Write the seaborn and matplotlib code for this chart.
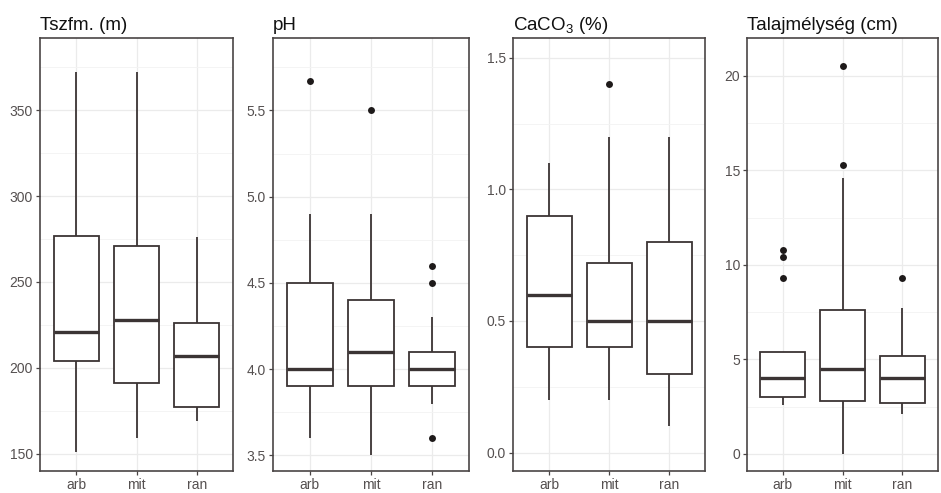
import pandas as pd
import seaborn as sns
import matplotlib.pyplot as plt
from matplotlib.ticker import MultipleLocator, AutoMinorLocator, FormatStrFormatter

groups = ["arb", "mit", "ran"]

# five-number summaries per group: [lower whisker, Q1, median, Q3, upper whisker]
tszfm_box = {"arb": [151, 204, 221, 277, 372],
             "mit": [159, 191, 228, 271, 372],
             "ran": [169, 177, 207, 226, 276]}
tszfm_out = {"arb": [], "mit": [], "ran": []}

ph_box = {"arb": [3.6, 3.9, 4.0, 4.5, 4.9],
          "mit": [3.5, 3.9, 4.1, 4.4, 4.9],
          "ran": [3.8, 3.9, 4.0, 4.1, 4.3]}
ph_out = {"arb": [5.67], "mit": [5.5], "ran": [4.6, 4.5, 3.6]}

caco3_box = {"arb": [0.2, 0.4, 0.6, 0.9, 1.1],
             "mit": [0.2, 0.4, 0.5, 0.72, 1.2],
             "ran": [0.1, 0.3, 0.5, 0.8, 1.2]}
caco3_out = {"arb": [], "mit": [1.4], "ran": []}

talaj_box = {"arb": [2.6, 3.0, 4.0, 5.4, 5.4],
             "mit": [0.0, 2.8, 4.5, 7.6, 14.6],
             "ran": [2.1, 2.7, 4.0, 5.2, 7.7]}
talaj_out = {"arb": [10.8, 10.4, 9.3], "mit": [20.5, 15.3], "ran": [9.3]}

titles = ["Tszfm. (m)", "pH", "CaCO$_3$ (%)", "Talajmélység (cm)"]
ylims = [(140, 392), (3.41, 5.92), (-0.07, 1.575), (-0.9, 22.0)]
steps = [50, 0.5, 0.5, 5]
fmts = ["%d", "%.1f", "%.1f", "%d"]
lefts = [40, 273, 513, 747]
rights = [233, 469, 705, 938]

sns.set_theme(style="white")
plt.rcParams["font.family"] = ["Liberation Sans", "DejaVu Sans"]
plt.rcParams["mathtext.fontset"] = "custom"
plt.rcParams["mathtext.rm"] = "Liberation Sans"
plt.rcParams["mathtext.it"] = "Liberation Sans"

line_col = "#3b3434"
fig = plt.figure(figsize=(9.41, 4.93), dpi=100)

panels = [(tszfm_box, tszfm_out), (ph_box, ph_out), (caco3_box, caco3_out), (talaj_box, talaj_out)]
for i, (box, out) in enumerate(panels):
    W, H = 941, 493
    ax = fig.add_axes([lefts[i] / W, (H - 471) / H, (rights[i] - lefts[i]) / W, (471 - 38) / H])
    df = pd.DataFrame([(g, v) for g in groups for v in box[g]], columns=["grp", "val"])
    sns.boxplot(data=df, x="grp", y="val", order=groups, whis=(0, 100), width=0.75,
                color="white", linecolor=line_col, linewidth=1.3, showcaps=False,
                medianprops=dict(linewidth=2.4, color=line_col), ax=ax)
    odf = pd.DataFrame([(g, v) for g in groups for v in out[g]], columns=["grp", "val"])
    if len(odf):
        sns.stripplot(data=odf, x="grp", y="val", order=groups, jitter=False,
                      color="#1e1a1a", size=5, ax=ax, zorder=5)
    ax.set_xlim(-0.6, 2.6)
    ax.set_ylim(*ylims[i])
    ax.yaxis.set_major_locator(MultipleLocator(steps[i]))
    ax.yaxis.set_minor_locator(AutoMinorLocator(2))
    ax.yaxis.set_major_formatter(FormatStrFormatter(fmts[i]))
    ax.grid(True, which="major", color="#ebebeb", linewidth=0.9)
    ax.grid(True, which="minor", axis="y", color="#f3f3f3", linewidth=0.6)
    ax.set_axisbelow(True)
    for s in ax.spines.values():
        s.set_color("#4a4545")
        s.set_linewidth(1.2)
    ax.tick_params(axis="both", which="major", length=3, width=0.9, color="#4a4545",
                   labelsize=10, labelcolor="#555050", pad=2, left=True, bottom=True)
    ax.tick_params(axis="y", which="minor", length=0)
    ax.set_xlabel("")
    ax.set_ylabel("")
    ax.set_title(titles[i], loc="left", fontsize=13.5, color="#111111", pad=6)

fig.savefig("out.png", dpi=100)
